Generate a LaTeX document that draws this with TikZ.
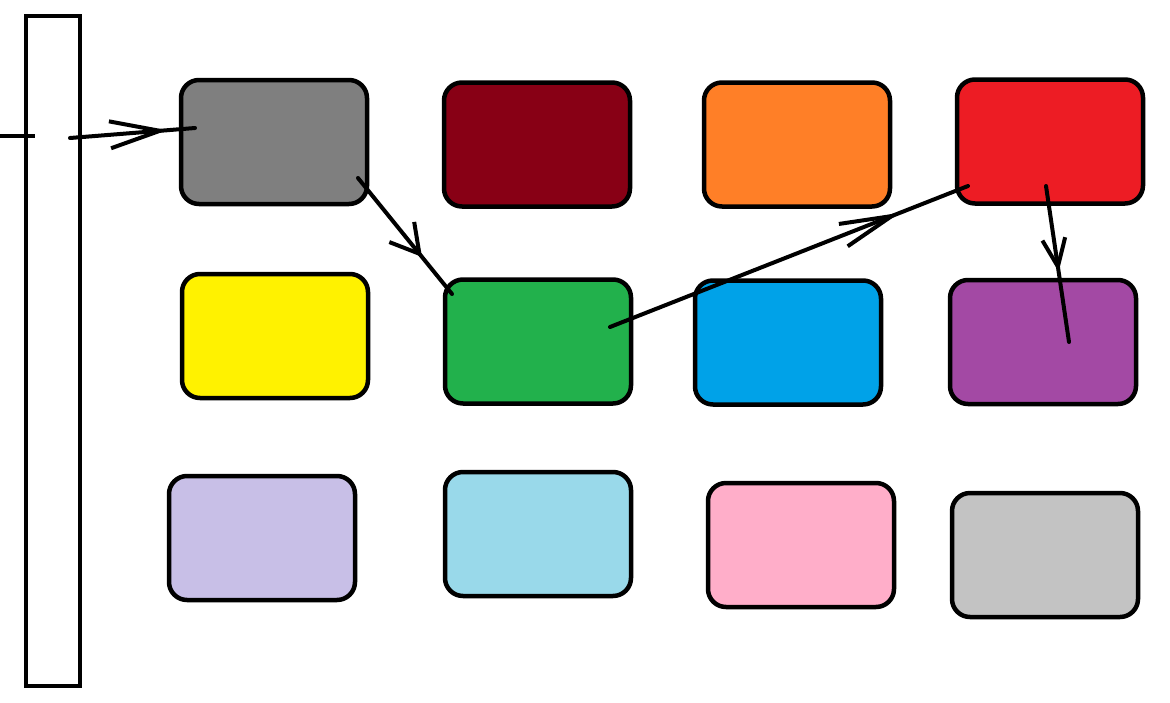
\documentclass[tikz,border=0pt]{standalone}
\usetikzlibrary{arrows.meta,decorations.markings}
\definecolor{cgrey}{HTML}{7F7F7F}
\definecolor{cdred}{HTML}{880015}
\definecolor{corange}{HTML}{FF7F27}
\definecolor{cred}{HTML}{ED1C24}
\definecolor{cyellow}{HTML}{FFF200}
\definecolor{cgreen}{HTML}{22B14C}
\definecolor{cblue}{HTML}{00A2E8}
\definecolor{cpurple}{HTML}{A349A4}
\definecolor{clav}{HTML}{C8BFE7}
\definecolor{clblue}{HTML}{99D9EA}
\definecolor{cpink}{HTML}{FFAEC9}
\definecolor{clgrey}{HTML}{C3C3C3}
\tikzset{
  card/.style={draw=black, line width=4.5pt, rounded corners=18pt, minimum width=186pt, minimum height=124pt, inner sep=0pt, fill=#1},
  bar/.style={draw=black, line width=4.5pt, minimum width=54pt, minimum height=670pt, inner sep=0pt},
  link/.style n args={3}{line width=4pt, line cap=round, postaction={decorate},
    decoration={markings, mark=at position #1 with {\arrow{Straight Barb[length=#2,width=#3,line width=4pt]}}}},
  plain/.style={line width=4pt}
}
\begin{document}
\begin{tikzpicture}[x=1pt,y=-1pt]
\useasboundingbox (0,0) rectangle (1170,702);
\fill[white] (0,0) rectangle (1170,702);
\node[bar] (bar) at (53,351) {};
\node[card=cgrey] (b1) at (274,142) {};
\node[card=cdred] (b2) at (537,144.5) {};
\node[card=corange] (b3) at (797,144.5) {};
\node[card=cred] (b4) at (1050,141.5) {};
\node[card=cyellow] (b5) at (275,336) {};
\node[card=cgreen] (b6) at (538,341.5) {};
\node[card=cblue] (b7) at (788,342.5) {};
\node[card=cpurple] (b8) at (1043,342) {};
\node[card=clav] (b9) at (262,538) {};
\node[card=clblue] (b10) at (538,534) {};
\node[card=cpink] (b11) at (801,545) {};
\node[card=clgrey] (b12) at (1045,555) {};
% connector end points
\coordinate (in0) at (0,136);
\coordinate (in1) at (35,136);
\coordinate (s1) at (70,138);
\coordinate (e1) at (195,128);
\coordinate (s2) at (358,178);
\coordinate (e2) at (452,294);
\coordinate (s3) at (610,327);
\coordinate (e3) at (968,186);
\coordinate (s4) at (1046,186);
\coordinate (e4) at (1069,342);
\draw[plain] (in0) -- (in1);
\draw[link={0.78}{50pt}{27pt}] (s1) -- (e1);
\draw[link={0.68}{28pt}{32pt}] (s2) -- (e2);
\draw[link={0.81}{52pt}{24pt}] (s3) -- (e3);
\draw[link={0.55}{28pt}{23pt}] (s4) -- (e4);
\end{tikzpicture}
\end{document}
